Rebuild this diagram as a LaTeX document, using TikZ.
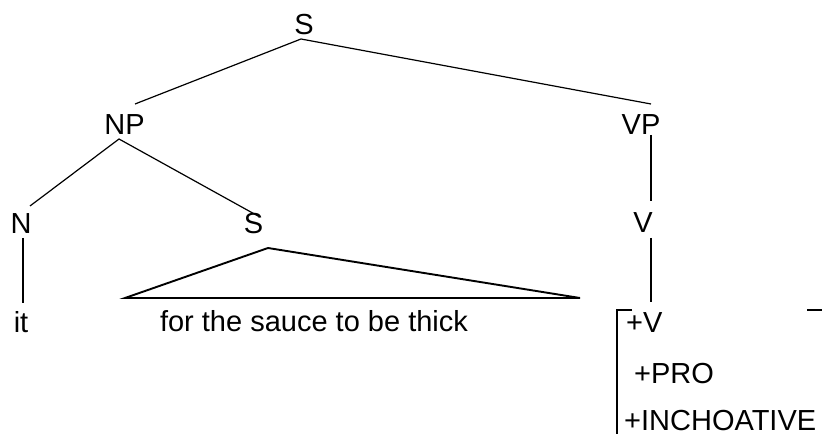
\documentclass[tikz,border=0pt]{standalone}
\usepackage{fontspec}
\setmainfont{Liberation Sans}
\begin{document}
\begin{tikzpicture}[x=1pt,y=1pt,
  lbl/.style={inner sep=0pt,anchor=base,font=\fontsize{29}{34}\selectfont},
  feat/.style={inner sep=0pt,anchor=base west,font=\fontsize{29}{34}\selectfont},
  edge/.style={line width=1.2pt},
  tri/.style={line width=1.9pt,line join=miter}]
\useasboundingbox (0,0) rectangle (822,434);
% labels (y = 434 - baseline px)
\node[lbl] (S)   at (304,399) {S};
\node[lbl] (NP)  at (124.5,299) {NP};
\node[lbl] (VP)  at (641,299) {VP};
\node[lbl] (N)   at (21,200) {N};
\node[lbl] (S2)  at (253.5,200) {S};
\node[lbl] (V)   at (643,201) {V};
\node[lbl] (it)  at (21,101) {it};
\node[lbl] (txt) at (314,102) {for the sauce to be thick};
\node[feat] (fV)   at (626,101) {+V};
\node[feat] (fPRO) at (634,51) {+PRO};
\node[feat] (fINC) at (624,4) {+INCHOATIVE};
% connector end points
\coordinate (Sb)   at (301,395);
\coordinate (NPt)  at (135,330);
\coordinate (VPt)  at (651,330);
\coordinate (NPb)  at (119,295);
\coordinate (Nt)   at (30,228);
\coordinate (S2t)  at (258,218);
\coordinate (Nb)   at (23,196);
\coordinate (itt)  at (23,131);
\coordinate (VPb)  at (651,299);
\coordinate (Vt)   at (651,233);
\coordinate (Vb)   at (651,196);
\coordinate (Vf)   at (651,132);
\coordinate (apex) at (268,186);
\coordinate (bl)   at (125,136);
\coordinate (br)   at (580,136);
\coordinate (lb1)  at (632,124);
\coordinate (lb2)  at (617,124);
\coordinate (lb3)  at (617,0);
\coordinate (rb1)  at (807,124);
\coordinate (rb2)  at (822,124);
% connectors
\draw[edge] (NPt) -- (Sb) -- (VPt);
\draw[edge] (Nt) -- (NPb) -- (S2t);
\draw[edge] (Nb) -- (itt);
\draw[edge] (VPb) -- (Vt);
\draw[edge] (Vb) -- (Vf);
\draw[tri] (apex) -- (bl) -- (br) -- cycle;
\draw[edge] (lb1) -- (lb2) -- (lb3);
\draw[edge] (rb1) -- (rb2);
\end{tikzpicture}
\end{document}
